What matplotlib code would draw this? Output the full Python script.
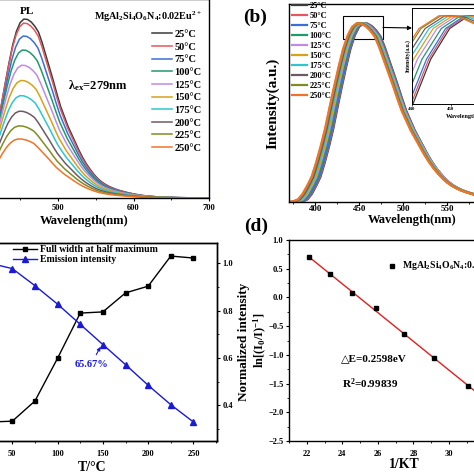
import matplotlib
matplotlib.use('Agg')
import matplotlib.pyplot as plt
import numpy as np
from matplotlib.patches import Rectangle
from matplotlib.ticker import MultipleLocator, NullLocator

plt.rcParams['font.family'] = ['Liberation Serif', 'DejaVu Serif']
plt.rcParams['font.weight'] = 'bold'
plt.rcParams['axes.labelweight'] = 'bold'
plt.rcParams['mathtext.fontset'] = 'custom'
plt.rcParams['mathtext.rm'] = 'Liberation Serif:bold'
plt.rcParams['mathtext.it'] = 'Liberation Serif:bold:italic'
plt.rcParams['mathtext.bf'] = 'Liberation Serif:bold'
plt.rcParams['mathtext.default'] = 'rm'
plt.rcParams['axes.linewidth'] = 1.0

# ---- data ----
temps = [25, 50, 75, 100, 125, 150, 175, 200, 225, 250]
temp_labels = ['25°C', '50°C', '75°C', '100°C', '125°C',
               '150°C', '175°C', '200°C', '225°C', '250°C']
colors = ['#3a3a3a', '#e4575c', '#3b6fd6', '#1f9a6c', '#c08ae6',
          '#d8a218', '#2cc6d2', '#6e5a66', '#7f8c22', '#f07428']

# normalised emission profile
ref_wl = [375, 380, 385, 390, 395, 400, 405, 410, 415, 420, 425, 430, 435,
          440, 445, 450, 455, 460, 465, 470, 475, 480, 485, 490, 495, 500,
          505, 510, 515, 520, 525, 530, 535, 540, 545, 550, 555, 560, 565,
          570, 575, 580, 590, 600, 610, 620, 630, 640, 660, 680, 720]
ref_val = [0.0, 0.004, 0.015, 0.045, 0.09, 0.14, 0.22, 0.31, 0.41, 0.53,
           0.645, 0.755, 0.855, 0.93, 0.978, 0.998, 0.996, 0.982, 0.958,
           0.925, 0.865, 0.795, 0.725, 0.655, 0.58, 0.51, 0.455, 0.40, 0.355,
           0.31, 0.265, 0.225, 0.19, 0.16, 0.133, 0.11, 0.092, 0.078, 0.066,
           0.057, 0.049, 0.042, 0.031, 0.022, 0.015, 0.010, 0.007, 0.005,
           0.002, 0.001, 0.0]
ref_center = 452.5
ref_fwhm = 84.5

peak_wl = [457.0, 456.5, 456.0, 455.0, 454.0, 453.0, 452.0, 451.0, 450.0, 449.5]
fwhm = [82.48, 82.5, 83.01, 84.09, 85.23, 85.26, 85.74, 85.91, 86.67, 86.62]
norm_int = [1.0, 0.977, 0.905, 0.827, 0.742, 0.6567, 0.572, 0.485, 0.403, 0.33]

# Arrhenius fit data (panel d)
inv_kt = [22.15, 23.28, 24.54, 25.9, 27.45, 29.17, 31.1]
ln_ratio = [0.71, 0.40, 0.07, -0.19, -0.64, -1.05, -1.55]

ref_wl = np.array(ref_wl)
ref_val = np.array(ref_val)


def curve(i):
    wl = peak_wl[i] + (ref_wl - ref_center) * fwhm[i] / ref_fwhm
    return wl, ref_val


def style(ax, size=6, pad=1.5, length=2.5):
    ax.tick_params(direction='out', labelsize=size, width=0.8, length=length,
                   pad=pad)
    ax.tick_params(which='minor', direction='out', width=0.6, length=1.5)


W = 474.0
fig = plt.figure(figsize=(4.74, 4.74), dpi=100)
fig.patch.set_facecolor('white')

# ---------------- (a) ----------------
axa = fig.add_axes([-40 / W, (W - 198) / W, 249 / W, 199 / W])
for i in range(len(temps)):
    wl, v = curve(i)
    axa.plot(wl, v * norm_int[i], color=colors[i], lw=1.1, label=temp_labels[i])
axa.set_xlim(370, 700)
axa.set_ylim(0, 1.11)
axa.xaxis.set_major_locator(MultipleLocator(100))
axa.xaxis.set_minor_locator(MultipleLocator(50))
axa.yaxis.set_major_locator(NullLocator())
style(axa)
axa.set_xlabel('Wavelength(nm)', fontsize=9)
axa.xaxis.set_label_coords(0.5, -0.085)
axa.legend(loc='upper left', bbox_to_anchor=(0.77, 0.845), frameon=False,
           fontsize=7.5, handlelength=1.9, handletextpad=0.3,
           labelspacing=0.32, borderpad=0, borderaxespad=0)
axa.text(0.538, 0.91, 'MgAl$_2$Si$_4$O$_6$N$_4$:0.02Eu$^{2+}$', transform=axa.transAxes,
         fontsize=7.3, ha='left', va='center')
axa.text(0.269, 0.935, 'PL', transform=axa.transAxes, fontsize=8,
         ha='center', va='center')
axa.text(0.435, 0.565, 'λ$_{\\rm ex}$=279nm', transform=axa.transAxes,
         fontsize=9, ha='left', va='center')

# ---------------- (b) ----------------
axb = fig.add_axes([289 / W, (W - 202) / W, 246 / W, 198 / W])
for i in range(len(temps)):
    wl, v = curve(i)
    axb.plot(wl, v, color=colors[i], lw=1.6, label=temp_labels[i])
axb.set_xlim(370, 650)
axb.set_ylim(0, 1.106)
axb.xaxis.set_major_locator(MultipleLocator(50))
axb.xaxis.set_minor_locator(MultipleLocator(25))
axb.yaxis.set_major_locator(NullLocator())
style(axb, 6.5, pad=0.3, length=2)
axb.set_xlabel('Wavelength(nm)', fontsize=9)
axb.xaxis.set_label_coords(0.5, -0.062)
axb.set_ylabel('Intensity(a.u.)', fontsize=11)
axb.yaxis.set_label_coords(-0.04, 0.5)
axb.legend(loc='upper left', bbox_to_anchor=(0.012, 1.012), frameon=False,
           fontsize=6, handlelength=1.8, handletextpad=0.3,
           labelspacing=0.25, borderpad=0, borderaxespad=0)
axb.add_patch(Rectangle((432, 0.91), 45, 0.13, fill=False, ec='black', lw=0.8))
axb.annotate('', xy=(412 / W, 1 - 28 / W), xycoords='figure fraction',
             xytext=(477, 0.975), textcoords='data',
             arrowprops=dict(arrowstyle='-|>', color='black', lw=0.8,
                             mutation_scale=6, shrinkA=0, shrinkB=0))

axi = fig.add_axes([412 / W, (W - 104) / W, 113 / W, 96 / W])
for i in range(len(temps)):
    wl, v = curve(i)
    axi.plot(wl, v, color=colors[i], lw=0.9)
axi.set_xlim(440, 469)
axi.set_ylim(0.86, 1.01)
axi.xaxis.set_major_locator(MultipleLocator(10))
axi.yaxis.set_major_locator(NullLocator())
axi.tick_params(direction='out', labelsize=3.5, length=1.5, width=0.5, pad=1)
for s in axi.spines.values():
    s.set_linewidth(0.7)
axi.set_xlabel('Wavelength(nm)', fontsize=4.5, labelpad=1.5)
axi.set_ylabel('Intensity(a.u.)', fontsize=4, labelpad=1)

# ---------------- (c) ----------------
axc = fig.add_axes([-33 / W, 33 / W, 250 / W, 198 / W])
axc2 = axc.twinx()
l1, = axc.plot(temps, fwhm, '-s', color='black', lw=1.0, markersize=3.5)
l2, = axc2.plot(temps, norm_int, '-^', color='#1a1ad6', lw=1.0, markersize=3.8)
axc.set_xlim(0, 276)
axc.set_ylim(82, 87)
axc2.set_ylim(0.25, 1.085)
axc.xaxis.set_major_locator(MultipleLocator(50))
axc.xaxis.set_minor_locator(MultipleLocator(25))
axc2.yaxis.set_major_locator(MultipleLocator(0.2))
axc2.yaxis.set_minor_locator(MultipleLocator(0.1))
style(axc)
style(axc2)
axc.tick_params(axis='x', pad=4)
axc.set_xlabel('T/°C', fontsize=10)
axc.xaxis.set_label_coords(0.5, -0.1)
axc2.set_ylabel('Normalized intensity', fontsize=9.5)
axc2.yaxis.set_label_coords(1.084, 0.5)
axc.legend([l1, l2], ['Full width at half maximum', 'Emission intensity'],
           loc='upper left', bbox_to_anchor=(0.184, 0.99), frameon=False,
           fontsize=7, handlelength=2.5, handletextpad=0.3,
           labelspacing=0.1, borderpad=0, borderaxespad=0)
axc2.annotate('65.67%', xy=(148, 0.652), xytext=(137, 0.573),
              color='#1a1ad6', fontsize=7.5, ha='center', va='center',
              arrowprops=dict(arrowstyle='-|>', color='#1a1ad6', lw=0.8,
                              mutation_scale=5, shrinkA=2, shrinkB=1))

# ---------------- (d) ----------------
axd = fig.add_axes([289 / W, 33 / W, 231 / W, 201 / W])
k, b = np.polyfit(inv_kt, ln_ratio, 1)
xf = np.array([min(inv_kt) - 0.05, max(inv_kt) + 0.6])
axd.plot(xf, k * xf + b, color='#e02020', lw=1.0)
axd.plot(inv_kt, ln_ratio, 's', color='black', markersize=3.5,
         label='MgAl$_2$Si$_4$O$_6$N$_4$:0.02Eu$^{2+}$')
axd.set_xlim(21, 34)
axd.set_ylim(-2.5, 1.0)
axd.xaxis.set_major_locator(MultipleLocator(2))
axd.xaxis.set_minor_locator(MultipleLocator(1))
axd.yaxis.set_major_locator(MultipleLocator(0.5))
axd.yaxis.set_minor_locator(MultipleLocator(0.25))
style(axd)
axd.tick_params(axis='x', pad=4)
axd.set_xlabel('1/KT', fontsize=10)
axd.xaxis.set_label_coords(0.5, -0.085)
axd.set_ylabel('ln[(I$_0$/I)$^{-1}$]', fontsize=9)
axd.yaxis.set_label_coords(-0.088, 0.5)
axd.legend(loc='upper left', bbox_to_anchor=(0.43, 0.905), frameon=False,
           fontsize=7, handlelength=0.8, handletextpad=0.6,
           borderpad=0, borderaxespad=0)
axd.text(23.9, -1.07, '△E=0.2598eV', fontsize=8, ha='left', va='center',
         family=['Liberation Serif', 'DejaVu Sans'])
axd.text(24.0, -1.51, 'R$^2$=0.99839', fontsize=8, ha='left', va='center')

fig.text(255 / W, 1 - 17 / W, '(b)', fontsize=14, ha='center', va='center')
fig.text(256 / W, 1 - 226 / W, '(d)', fontsize=14, ha='center', va='center')

fig.savefig('out.png', dpi=100)
